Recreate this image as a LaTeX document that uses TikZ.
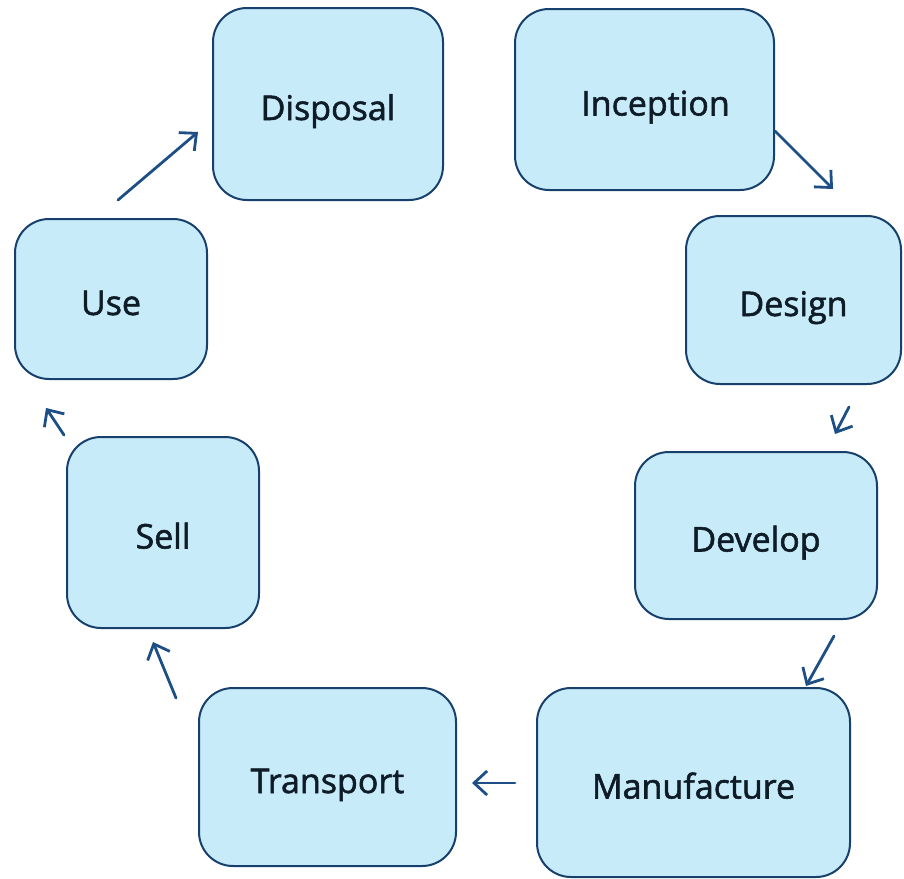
\documentclass[tikz,border=0pt]{standalone}
\usepackage{fontspec}
\newfontfamily\boxfont{Open Sans}[BoldFont={Open Sans}, BoldFeatures={FakeBold=1.6}]
\usetikzlibrary{arrows.meta}
\definecolor{boxfill}{HTML}{C8EBF9}
\definecolor{boxline}{HTML}{17406C}
\definecolor{arrowc}{HTML}{1D4F86}
\definecolor{txt}{HTML}{0E1C27}
\tikzset{
  stagebox/.style={draw=boxline, fill=boxfill, line width=2pt, rounded corners=34pt,
    inner sep=0pt, text=txt, text height=32pt, text depth=0pt,
    font=\boxfont\bfseries\fontsize{34}{38}\selectfont},
  flowarrow/.style={draw=arrowc, line width=2.8pt, line cap=round,
    -{Straight Barb[length=13pt,width=24pt,line width=2.8pt]}}
}
\begin{document}
\begin{tikzpicture}[x=1pt,y=-1pt]
\useasboundingbox (0,0) rectangle (904,878);
\node[stagebox, minimum width=230pt, minimum height=192pt] (disposal) at (328,104) {Disposal};
\node[stagebox, minimum width=259pt, minimum height=181pt] (inception) at (644.5,99.5) {\hspace*{22pt}Inception};
\node[stagebox, minimum width=215pt, minimum height=168pt] (design) at (793.5,300) {Design};
\node[stagebox, minimum width=242pt, minimum height=167pt] (develop) at (756,535.5) {Develop};
\node[stagebox, minimum width=313pt, minimum height=189pt] (manufacture) at (693.5,782.5) {Manufacture};
\node[stagebox, minimum width=257pt, minimum height=178pt] (transport) at (327.5,777) {Transport};
\node[stagebox, minimum width=192pt, minimum height=191pt] (sell) at (163,532.5) {Sell};
\node[stagebox, minimum width=192pt, minimum height=160pt] (use) at (111,299) {Use};
\coordinate (a1s) at (118,200); \coordinate (a1e) at (198,132);
\coordinate (a2s) at (775,131); \coordinate (a2e) at (833,189);
\coordinate (a3s) at (849,407); \coordinate (a3e) at (835,434);
\coordinate (a4s) at (834,636); \coordinate (a4e) at (806,686);
\coordinate (a5s) at (515,783); \coordinate (a5e) at (472,783);
\coordinate (a6s) at (176,698); \coordinate (a6e) at (153,642);
\coordinate (a7s) at (64,435); \coordinate (a7e) at (46,408);
\draw[flowarrow] (a1s) -- (a1e);
\draw[flowarrow] (a2s) -- (a2e);
\draw[flowarrow] (a3s) -- (a3e);
\draw[flowarrow] (a4s) -- (a4e);
\draw[flowarrow] (a5s) -- (a5e);
\draw[flowarrow] (a6s) -- (a6e);
\draw[flowarrow] (a7s) -- (a7e);
\end{tikzpicture}
\end{document}
